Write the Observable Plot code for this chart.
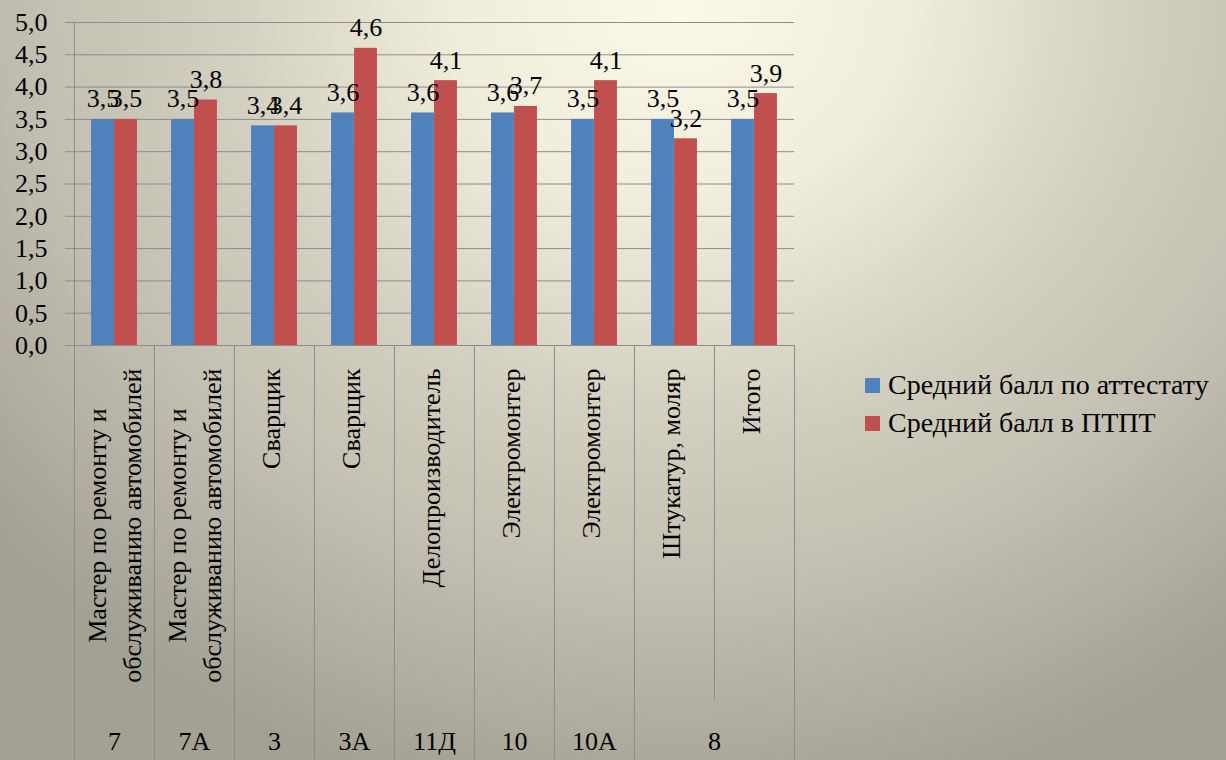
<!DOCTYPE html>
<html>
<head>
<meta charset="utf-8">
<script src="https://cdn.jsdelivr.net/npm/d3@7"></script>
<script src="https://cdn.jsdelivr.net/npm/@observablehq/plot@0.6"></script>
<style>
  html, body { margin: 0; padding: 0; }
  body {
    width: 1226px; height: 760px; overflow: hidden; position: relative;
    background: radial-gradient(ellipse 900px 820px at 680px 0px, #fbf8e8 0%, #f1eddb 25%, #d3d0c1 50%, #c2beb1 72%, #a3a194 100%);
    font-family: "Liberation Serif", "Tinos", "Times New Roman", "DejaVu Serif", serif;
  }
  #chart { position: absolute; left: 0; top: 0; }
  #chart svg, #chart svg text { font-family: "Liberation Serif", "Tinos", "Times New Roman", "DejaVu Serif", serif !important; }
  #legend { position: absolute; left: 865px; top: 366px; font-size: 28px; color: #000; }
  #legend .item { display: flex; align-items: center; height: 38px; }
  #legend .sw { width: 15px; height: 15px; margin-right: 8px; }
</style>
</head>
<body>
<div id="chart"></div>
<div id="legend"></div>
<script>
const categories = [
  "Мастер по ремонту и\nобслуживанию автомобилей",
  "Мастер по ремонту и\nобслуживанию автомобилей",
  "Сварщик",
  "Сварщик",
  "Делопроизводитель",
  "Электромонтер",
  "Электромонтер",
  "Штукатур, моляр",
  "Итого"
];
const groupLabels = ["7", "7А", "3", "3А", "11Д", "10", "10А", "8"];
const groupSpans = [1, 1, 1, 1, 1, 1, 1, 2];
const seriesNames = ["Средний балл по аттестату", "Средний балл в ПТПТ"];
const attestat = [3.5, 3.5, 3.4, 3.6, 3.6, 3.6, 3.5, 3.5, 3.5];
const ptpt = [3.5, 3.8, 3.4, 4.6, 4.1, 3.7, 4.1, 3.2, 3.9];
const yTicks = [0, 0.5, 1, 1.5, 2, 2.5, 3, 3.5, 4, 4.5, 5];
const colors = ["#4f81bd", "#c0504d"];

const W = 1226, H = 760;
const mL = 73, mR = 432, mT = 22, mB = 415;
const step = (W - mL - mR) / categories.length;
const barW = 23;
const pad = (step - 2 * barW) / 2;
const font = '"Liberation Serif", "Tinos", "Times New Roman", "DejaVu Serif", serif';
const fs = 26;
const fmt = v => d3.format(".1f")(v).replace(".", ",");
const idx = d3.range(categories.length);

const rows = idx.map(i => ({i, cat: categories[i], a: attestat[i], p: ptpt[i]}));

const ctx = document.createElement("canvas").getContext("2d");
ctx.font = `${fs}px ${font}`;
const longest = s => d3.max(s.split("\n"), l => ctx.measureText(l).width);
const single = rows.filter(d => !d.cat.includes("\n"));
const multi = rows.filter(d => d.cat.includes("\n"));

let start = 0;
const groups = groupLabels.map((g, k) => {
  const r = {i: start, label: g, span: groupSpans[k]};
  start += groupSpans[k];
  return r;
});

const gridColor = "#8c8c8c";
const labelTop = 23;

const plot = Plot.plot({
  width: W, height: H,
  marginLeft: mL, marginRight: mR, marginTop: mT, marginBottom: mB,
  style: {background: "none", fontFamily: font, fontSize: fs + "px", color: "#000", overflow: "visible"},
  x: {type: "band", domain: idx, padding: 0, axis: null},
  y: {domain: [0, 5], axis: null},
  marks: [
    Plot.gridY(yTicks, {stroke: gridColor, strokeOpacity: 1, strokeWidth: 1}),
    Plot.axisY({ticks: yTicks, tickFormat: fmt, tickSize: 8, tickPadding: 18, stroke: gridColor, strokeOpacity: 1, fontSize: fs, fill: "#000"}),
    Plot.ruleX([0], {x: 0, dx: -step / 2, stroke: gridColor}),
    Plot.ruleY([0], {stroke: gridColor}),
    Plot.barY(rows, {x: "i", y: "a", fill: colors[0], insetLeft: pad, insetRight: pad + barW}),
    Plot.barY(rows, {x: "i", y: "p", fill: colors[1], insetLeft: pad + barW, insetRight: pad}),
    Plot.text(rows, {x: "i", y: "a", text: d => fmt(d.a), dx: -barW / 2, dy: -12, lineAnchor: "bottom", fontSize: fs, fill: "#000"}),
    Plot.text(rows, {x: "i", y: "p", text: d => fmt(d.p), dx: barW / 2, dy: -12, lineAnchor: "bottom", fontSize: fs, fill: "#000"}),
    Plot.ruleX(rows.filter(d => d.i !== 8), {x: "i", dx: -step / 2, stroke: gridColor, insetTop: H - mT - mB, insetBottom: -mB}),
    Plot.ruleX(rows.filter(d => d.i === 8), {x: "i", dx: -step / 2, stroke: gridColor, insetTop: H - mT - mB, insetBottom: -(mB - 60)}),
    Plot.ruleX(rows.filter(d => d.i === 8), {x: "i", dx: step / 2, stroke: gridColor, insetTop: H - mT - mB, insetBottom: -mB}),
    Plot.text(single, {x: "i", text: "cat", frameAnchor: "bottom", rotate: -90, textAnchor: "end", dx: 5, dy: labelTop, fontSize: fs, fill: "#000"}),
    ...multi.map(d => Plot.text([d], {x: "i", text: "cat", frameAnchor: "bottom", rotate: -90, textAnchor: "middle", lineHeight: 1.32, dx: 26, dy: labelTop + longest(d.cat) / 2, fontSize: fs, fill: "#000"})),
    ...groups.map(g => Plot.text([g], {x: "i", text: "label", frameAnchor: "bottom", dy: 396, dx: (g.span - 1) * step / 2, lineAnchor: "middle", fontSize: fs, fill: "#000"}))
  ]
});
document.getElementById("chart").appendChild(plot);

const legend = d3.select("#legend");
seriesNames.forEach((s, k) => {
  const it = legend.append("div").attr("class", "item");
  it.append("div").attr("class", "sw").style("background", colors[k]);
  it.append("span").text(s);
});
</script>
</body>
</html>
